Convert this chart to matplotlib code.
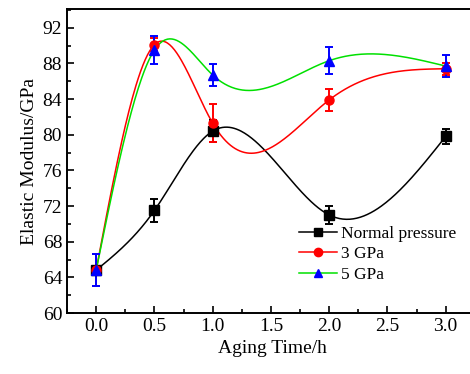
import numpy as np
import matplotlib
matplotlib.use('Agg')
import matplotlib.pyplot as plt
from matplotlib.ticker import MultipleLocator

plt.rcParams['font.family'] = 'Liberation Serif'
plt.rcParams['mathtext.fontset'] = 'stix'

# aging time (h)
time = [0.0, 0.5, 1.0, 2.0, 3.0]

# elastic modulus (GPa) and error bars
normal = [64.8, 71.5, 80.4, 71.0, 79.8]
normal_err = [1.8, 1.3, 1.2, 1.0, 0.8]
gpa3 = [64.8, 90.1, 81.3, 83.9, 87.4]
gpa3_err = [1.8, 0.7, 2.1, 1.25, 0.7]
gpa5 = [64.8, 89.5, 86.7, 88.3, 87.7]
gpa5_err = [1.8, 1.6, 1.2, 1.5, 1.2]


def natural_spline(x, y, n=300):
    # natural cubic spline through the points, used only to draw the smooth line
    x = np.asarray(x, float)
    y = np.asarray(y, float)
    k = len(x)
    h = np.diff(x)
    A = np.zeros((k, k))
    b = np.zeros(k)
    A[0, 0] = A[-1, -1] = 1
    for i in range(1, k - 1):
        A[i, i - 1] = h[i - 1]
        A[i, i] = 2 * (h[i - 1] + h[i])
        A[i, i + 1] = h[i]
        b[i] = 6 * ((y[i + 1] - y[i]) / h[i] - (y[i] - y[i - 1]) / h[i - 1])
    M = np.linalg.solve(A, b)
    xs = np.linspace(x[0], x[-1], n)
    idx = np.clip(np.searchsorted(x, xs) - 1, 0, k - 2)
    x0, x1 = x[idx], x[idx + 1]
    hh = x1 - x0
    t0 = x1 - xs
    t1 = xs - x0
    ys = (M[idx] * t0**3 / (6 * hh) + M[idx + 1] * t1**3 / (6 * hh)
          + (y[idx] / hh - M[idx] * hh / 6) * t0
          + (y[idx + 1] / hh - M[idx + 1] * hh / 6) * t1)
    return xs, ys


fig = plt.figure(figsize=(4.7, 3.74), dpi=100)
# the right spine sits just past the edge of the picture
ax = fig.add_axes([0.1426, 0.1631, 0.875, 0.8128])

series = [
    ('Normal pressure', normal, normal_err, 'black', 'black', 's', 'black'),
    ('3 GPa', gpa3, gpa3_err, 'red', 'red', 'o', 'red'),
    ('5 GPa', gpa5, gpa5_err, '#00e000', 'blue', '^', 'blue'),
]

for label, vals, err, lc, mc, mk, ec in series:
    xs, ys = natural_spline(time, vals)
    ax.plot(xs, ys, color=lc, lw=1.1, zorder=2)
    ax.errorbar(time, vals, yerr=err, fmt='none', ecolor=ec, elinewidth=1.4,
                capsize=3, capthick=1.4, zorder=3)
    ax.plot(time, vals, linestyle='none', marker=mk, color=mc, markersize=6.5, zorder=4)
    ax.plot([], [], color=lc, lw=1.1, marker=mk, markerfacecolor=mc,
            markeredgecolor=mc, markersize=6, label=label)

ax.set_xlim(-0.25, 3.28)
ax.set_ylim(60, 94.1)
ax.xaxis.set_major_locator(MultipleLocator(0.5))
ax.xaxis.set_minor_locator(MultipleLocator(0.25))
ax.yaxis.set_major_locator(MultipleLocator(4))
ax.yaxis.set_minor_locator(MultipleLocator(2))
ax.set_xticks([0, 0.5, 1, 1.5, 2, 2.5, 3])
ax.set_xticklabels(['0.0', '0.5', '1.0', '1.5', '2.0', '2.5', '3.0'])
ax.tick_params(which='both', direction='in', labelsize=14, width=1.2)
ax.tick_params(which='major', length=5)
ax.tick_params(which='minor', length=3)
for s in ax.spines.values():
    s.set_linewidth(1.4)

ax.set_xlabel('Aging Time/h', fontsize=14, labelpad=4)
ax.set_ylabel('Elastic Modulus/GPa', fontsize=14, labelpad=3)

ax.legend(loc='lower right', bbox_to_anchor=(0.975, 0.06), frameon=False, fontsize=12.5,
          handlelength=2.2, handletextpad=0.2, labelspacing=0.25, borderpad=0.2)

fig.savefig('out.png', dpi=100)
